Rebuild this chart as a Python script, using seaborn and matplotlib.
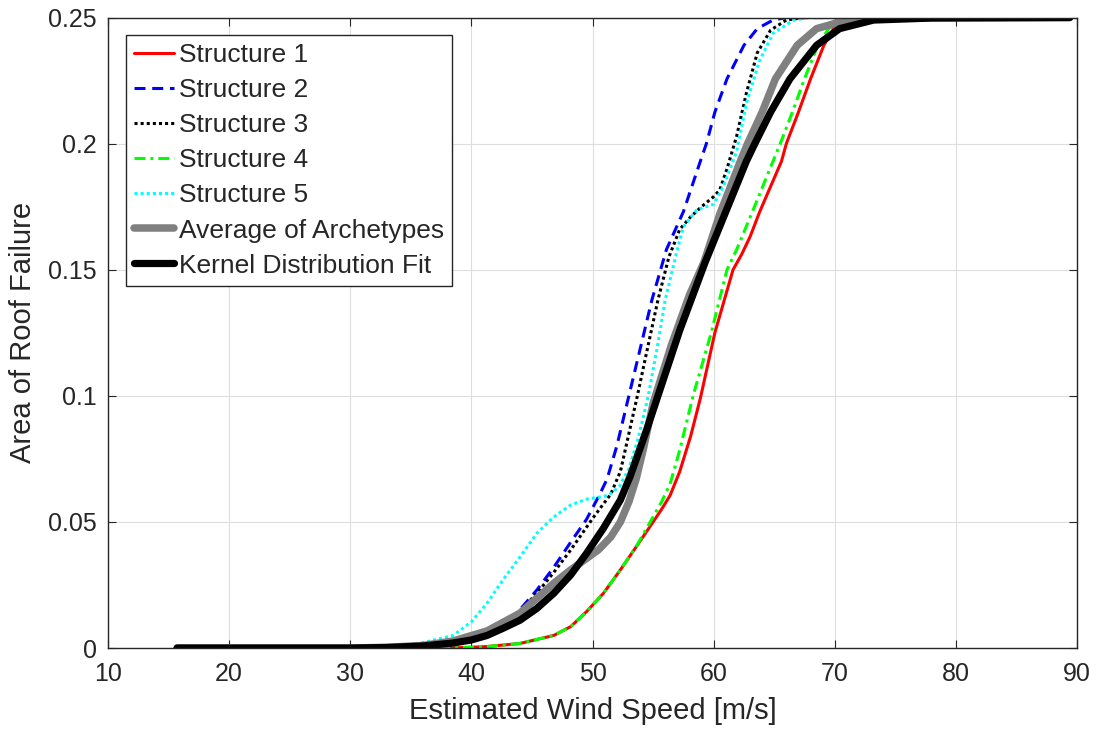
import matplotlib
matplotlib.use("Agg")
import matplotlib.pyplot as plt
import seaborn as sns
import pandas as pd

# Wind speed [m/s] and fraction of roof area failed, per structure
s1_x = [15.7, 38, 40, 41.3, 44, 46.8, 48.2, 49.5, 50.9, 52.3, 53.7, 55, 55.7, 56.4, 57.2, 58.1,
        58.9, 60.1, 61.6, 62.3, 63.0, 63.8, 65.6, 66.0, 67.0, 68.0, 69.1, 69.9, 71, 72.5, 89.4]
s1_y = [0, 0, 0.0003, 0.0006, 0.0018, 0.005, 0.0085, 0.0144, 0.0217, 0.031, 0.0408, 0.05, 0.055,
        0.0605, 0.07, 0.084, 0.099, 0.125, 0.15, 0.156, 0.163, 0.173, 0.193, 0.2, 0.2125, 0.2257,
        0.239, 0.2456, 0.249, 0.25, 0.25]

s2_x = [15.7, 33, 36, 38, 40, 42, 43.5, 45.4, 46.8, 48.2, 49.5, 50.6, 51.2, 52, 53, 53.9, 54.9,
        56.1, 57.5, 58.9, 59.4, 60.1, 61.1, 62.5, 63.6, 64.9, 66, 89.4]
s2_y = [0, 0, 0.0005, 0.0015, 0.004, 0.0085, 0.0124, 0.023, 0.032, 0.042, 0.051, 0.061, 0.067,
        0.08, 0.1, 0.118, 0.138, 0.158, 0.173, 0.193, 0.2, 0.2125, 0.2257, 0.239, 0.2456, 0.249,
        0.25, 0.25]

s3_x = [15.7, 33, 36, 38.5, 40, 42, 43.5, 45.4, 46.8, 48.2, 50.1, 51.5, 52.3, 53.7, 54.5, 55.4,
        56.3, 57.2, 58.1, 59.0, 60.0, 60.5, 61.1, 61.9, 62.7, 63.6, 64.7, 66.0, 67.5, 89.4]
s3_y = [0, 0, 0.0008, 0.002, 0.0035, 0.0075, 0.012, 0.0217, 0.030, 0.0389, 0.052, 0.061, 0.07,
        0.1, 0.118, 0.138, 0.155, 0.166, 0.171, 0.175, 0.179, 0.1816, 0.19, 0.203, 0.22, 0.236,
        0.245, 0.249, 0.25, 0.25]

s4_x = [15.7, 38, 40, 41.3, 44, 46.8, 48.2, 49.5, 50.9, 52.3, 53.7, 55, 55.7, 56.4, 57.2, 58.3,
        59.8, 61.1, 61.9, 63.2, 64.9, 65.5, 66.5, 67.5, 68.6, 69.5, 70.3, 72, 89.4]
s4_y = [0, 0, 0.0003, 0.0006, 0.0018, 0.005, 0.0085, 0.0144, 0.0217, 0.031, 0.041, 0.052, 0.058,
        0.065, 0.0785, 0.1, 0.125, 0.15, 0.158, 0.173, 0.193, 0.2, 0.2125, 0.2257, 0.239, 0.2456,
        0.248, 0.25, 0.25]

s5_x = [15.7, 30, 34, 35.8, 38.5, 40, 41.3, 42.6, 44, 45.4, 46.8, 48.2, 49.5, 50.4, 51.3, 52.2,
        53.0, 53.7, 54.2, 54.6, 55.3, 56.0, 57.0, 57.5, 58.6, 60.0, 60.8, 61.9, 62.7, 63.8, 64.9,
        66.6, 68, 89.4]
s5_y = [0, 0, 0.0005, 0.0019, 0.005, 0.0104, 0.0178, 0.027, 0.036, 0.0455, 0.052, 0.0567, 0.059,
        0.0597, 0.0605, 0.064, 0.071, 0.082, 0.0917, 0.1, 0.118, 0.138, 0.158, 0.167, 0.1737,
        0.176, 0.183, 0.197, 0.216, 0.233, 0.2437, 0.249, 0.25, 0.25]

avg_x = [15.7, 30, 33, 36, 38.5, 41.3, 44, 46.8, 48.2, 49.5, 50.5, 51.5, 52.3, 53, 53.6, 54.2,
         55, 56.5, 58, 59.2, 60.5, 62.2, 62.8, 64.0, 65.1, 66.9, 68.5, 71, 75, 89.4]
avg_y = [0, 0, 0.0003, 0.001, 0.0028, 0.0068, 0.0138, 0.0257, 0.031, 0.0355, 0.039, 0.044, 0.05,
         0.058, 0.067, 0.079, 0.097, 0.12, 0.14, 0.153, 0.172, 0.193, 0.2, 0.2125, 0.2257, 0.239,
         0.2456, 0.249, 0.2499, 0.25]

fit_x = [15.7, 30, 33, 36, 38.5, 40, 41.3, 42.6, 44, 45.4, 46.8, 48.2, 49.5, 50.9, 52.3, 53.1,
         54.5, 55.4, 57.2, 59.3, 61.0, 62.7, 63.4, 64.7, 66.3, 68.5, 70.4, 73.2, 78, 89.4]
fit_y = [0, 0, 0.0002, 0.0008, 0.002, 0.0032, 0.005, 0.0078, 0.011, 0.0157, 0.0217, 0.029, 0.0375,
         0.0475, 0.0587, 0.068, 0.087, 0.1, 0.126, 0.153, 0.173, 0.193, 0.2, 0.2125, 0.2257, 0.239,
         0.2456, 0.249, 0.2498, 0.25]

x_ticks = [10, 20, 30, 40, 50, 60, 70, 80, 90]
y_ticks = [0, 0.05, 0.1, 0.15, 0.2, 0.25]
y_tick_labels = ["0", "0.05", "0.1", "0.15", "0.2", "0.25"]

sns.set_theme(style="whitegrid")
plt.rcParams["font.family"] = ["Liberation Sans", "DejaVu Sans"]

fig = plt.figure(figsize=(10.98, 7.31), dpi=100)
ax = fig.add_axes([0.0984, 0.1135, 0.8825, 0.8625])

series = [
    ("Structure 1", s1_x, s1_y, dict(color="#ff0000", lw=2.2, ls="-")),
    ("Structure 2", s2_x, s2_y, dict(color="#0000ff", lw=2.2, dashes=(3.6, 2.2))),
    ("Structure 3", s3_x, s3_y, dict(color="#000000", lw=2.2, dashes=(1, 1))),
    ("Structure 4", s4_x, s4_y, dict(color="#00ff00", lw=2.2, dashes=(3.6, 1.6, 1, 1.6))),
    ("Structure 5", s5_x, s5_y, dict(color="#00ffff", lw=2.2, dashes=(1, 1))),
    ("Average of Archetypes", avg_x, avg_y, dict(color="#808080", lw=5.4, ls="-")),
    ("Kernel Distribution Fit", fit_x, fit_y, dict(color="#000000", lw=5.2, ls="-")),
]

for name, xs, ys, style in series:
    df = pd.DataFrame({"speed": xs, "area": ys})
    kw = dict(style)
    dashes = kw.pop("dashes", None)
    sns.lineplot(data=df, x="speed", y="area", ax=ax, label=name, sort=False,
                 estimator=None, **kw)
    if dashes is not None:
        ax.lines[-1].set_dashes(dashes)

ax.set_xlim(10, 90)
ax.set_ylim(0, 0.25)
ax.set_xticks(x_ticks)
ax.set_yticks(y_ticks)
ax.set_yticklabels(y_tick_labels)

ax.grid(True, color="#dedede", lw=0.8)
ax.set_axisbelow(True)
for sp in ax.spines.values():
    sp.set_visible(True)
    sp.set_color("#262626")
    sp.set_linewidth(1.0)
ax.tick_params(axis="both", which="both", direction="in", length=6, width=0.8,
               colors="#262626", labelsize=18, top=True, right=True,
               bottom=True, left=True, labelcolor="#262626")
ax.tick_params(axis="x", pad=10)
ax.tick_params(axis="y", pad=8)

ax.set_xlabel("Estimated Wind Speed [m/s]", fontsize=21, color="#262626", labelpad=8)
ax.set_ylabel("Area of Roof Failure", fontsize=21, color="#262626", labelpad=8)

leg = ax.legend(loc="upper left", bbox_to_anchor=(0.0186, 0.972), borderaxespad=0,
                fontsize=19, frameon=True, fancybox=False, framealpha=1,
                edgecolor="#262626", handlelength=1.5, handletextpad=0.2,
                labelspacing=0.42, borderpad=0.3)
leg.get_frame().set_linewidth(1.0)

fig.savefig("out.png", dpi=100, facecolor="white")
